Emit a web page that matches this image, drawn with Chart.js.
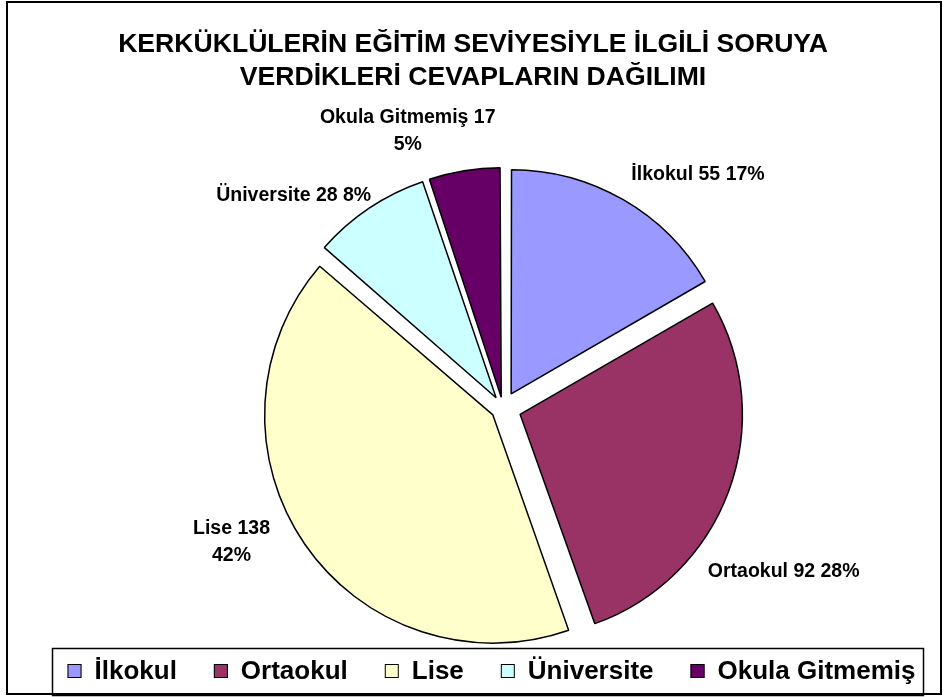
<!DOCTYPE html>
<html><head><meta charset="utf-8">
<script src="https://cdn.jsdelivr.net/npm/chart.js@4.4.1/dist/chart.umd.min.js"></script>
<style>html,body{margin:0;padding:0;background:#fff;}canvas{display:block;}</style>
</head><body>
<canvas id="c" width="946" height="697"></canvas>
<script>
// ---- data ----
const categories = ['İlkokul', 'Ortaokul', 'Lise', 'Üniversite', 'Okula Gitmemiş'];
const counts = [55, 92, 138, 28, 17];
const titleLines = ['KERKÜKLÜLERİN EĞİTİM SEVİYESİYLE İLGİLİ SORUYA', 'VERDİKLERİ CEVAPLARIN DAĞILIMI'];

// ---- styles / layout ----
const sliceColors = ['#9999FF', '#993366', '#FFFFCC', '#CCFFFF', '#660066'];
const FONT = '"Liberation Sans", Arial, sans-serif';
const EXPLODE = 18.5;       // px each slice is pulled out
const PIE_RADIUS = 222;
// label placement relative to each slice: angle shift (deg) from mid-angle, distance from centre, wrap to 2 lines
const labelPlacement = [
  {dAngle: 9.9, dist: 304, wrap: false},
  {dAngle: 10.1, dist: 325, wrap: false},
  {dAngle: 8.0, dist: 303, wrap: true},
  {dAngle: -10.8, dist: 298, wrap: false},
  {dAngle: -9.7, dist: 293, wrap: true}
];

const total = counts.reduce((a, b) => a + b, 0);
const pct = counts.map(v => Math.round(v / total * 100) + '%');

function offsetFor(ctx) {
  const v = ctx.dataset.data[ctx.dataIndex];
  const circ = v / total * 2 * Math.PI;
  const fix = 1 - Math.sin(Math.min(Math.PI, circ));
  return 4 * EXPLODE / (1 + fix);
}

const decorPlugin = {
  id: 'decor',
  beforeDraw(chart) {
    const c = chart.ctx;
    c.save();
    c.fillStyle = '#fff';
    c.fillRect(0, 0, chart.width, chart.height);
    c.restore();
  },
  afterDraw(chart) {
    const c = chart.ctx;
    c.save();
    // title
    c.fillStyle = '#000';
    c.font = 'bold 26.6px ' + FONT;
    c.textAlign = 'center';
    c.textBaseline = 'middle';
    c.fillText(titleLines[0], 473, 45);
    c.fillText(titleLines[1], 473, 78);

    // data labels
    const meta = chart.getDatasetMeta(0);
    c.font = 'bold 19.5px ' + FONT;
    meta.data.forEach((arc, i) => {
      const p = labelPlacement[i];
      const mid = (arc.startAngle + arc.endAngle) / 2 + p.dAngle * Math.PI / 180;
      const x = arc.x + p.dist * Math.cos(mid);
      const y = arc.y + p.dist * Math.sin(mid);
      const lines = p.wrap ? [categories[i] + ' ' + counts[i], pct[i]] : [categories[i] + ' ' + counts[i] + ' ' + pct[i]];
      const lh = 27;
      lines.forEach((t, k) => {
        c.fillText(t, x, y + (k - (lines.length - 1) / 2) * lh);
      });
    });

    // legend
    const lf = 26, box = 14, gapText = lf / 2, gapItem = 37;
    c.font = 'bold ' + lf + 'px ' + FONT;
    c.textAlign = 'left';
    const widths = categories.map(t => box + gapText + c.measureText(t).width);
    const totalW = widths.reduce((a, b) => a + b, 0) + gapItem * (categories.length - 1);
    let x = 491.5 - totalW / 2;
    const ly = 671;
    categories.forEach((t, i) => {
      c.fillStyle = sliceColors[i];
      c.fillRect(x, ly - box / 2, box, box);
      c.strokeStyle = '#000';
      c.lineWidth = 1;
      c.strokeRect(x + 0.5, ly - box / 2 + 0.5, box - 1, box - 1);
      c.fillStyle = '#000';
      c.fillText(t, x + box + gapText, ly + 1);
      x += widths[i] + gapItem;
    });
    c.strokeStyle = '#000';
    c.lineWidth = 1.5;
    c.strokeRect(52.5, 648.5, 871, 47);

    // outer frame
    c.lineWidth = 2;
    c.strokeRect(7, 2, 934, 692);
    c.restore();
  }
};

new Chart(document.getElementById('c'), {
  type: 'pie',
  data: {
    labels: categories,
    datasets: [{
      data: counts,
      backgroundColor: sliceColors,
      borderColor: '#000',
      borderWidth: 1.5,
      offset: offsetFor,
      hoverOffset: 0,
      clip: false
    }]
  },
  options: {
    responsive: false,
    animation: false,
    events: [],
    radius: PIE_RADIUS,
    layout: {padding: {left: 60, right: 0, top: 175, bottom: 56}},
    plugins: {
      legend: {display: false},
      title: {display: false},
      tooltip: {enabled: false}
    }
  },
  plugins: [decorPlugin]
});
</script>
</body></html>
